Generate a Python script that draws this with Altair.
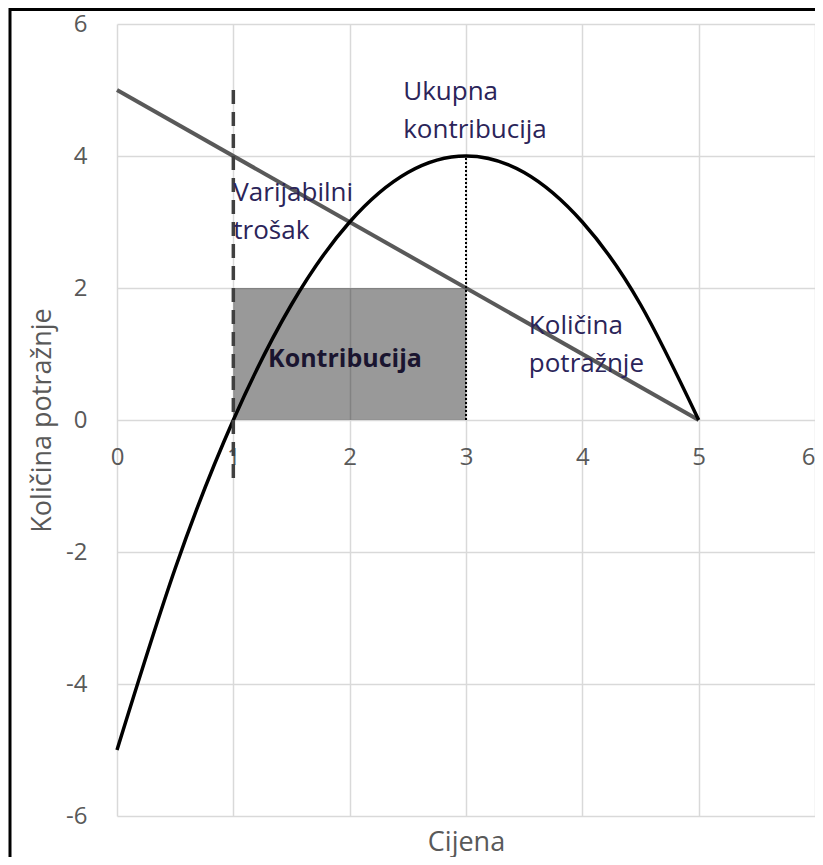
import altair as alt
import pandas as pd

# ---- data ----
curve_x = [0, 0.5, 1, 1.5, 2, 2.5, 3, 3.5, 4, 4.5, 5]
curve_y = [-5, -2.25, 0, 1.75, 3, 3.75, 4, 3.75, 3, 1.75, 0]

demand_x = [0, 5]
demand_y = [5, 0]

var_x = [1]
var_y = [5]
var_y2 = [-1]

peak_x = [3]
peak_y = [0]
peak_y2 = [4]

rect_x = [1]
rect_x2 = [3]
rect_y = [0]
rect_y2 = [2]

x_ticks = [0, 1, 2, 3, 4, 5, 6]
y_ticks = [-6, -4, -2, 0, 2, 4, 6]

note_text = ["Ukupna\nkontribucija", "Varijabilni\ntrošak", "Količina\npotražnje"]
note_x = [2.46, 1.0, 3.54]
note_y = [4.97, 3.44, 1.42]

bold_text = ["Kontribucija"]
bold_x = [1.96]
bold_y = [0.92]

FONT = "Open Sans"
GRAY = "#595959"
GRID = "#d9d9d9"
W, H = 698, 792

xscale = alt.Scale(domain=[0, 6], nice=False, zero=False)
yscale = alt.Scale(domain=[-6, 6], nice=False, zero=False)

xaxis = alt.Axis(values=x_ticks, title=None, grid=True, gridColor=GRID, gridWidth=1.5,
                 orient="bottom",
                 domain=False, ticks=False, tickSize=0, labelPadding=25,
                 labelFont=FONT, labelFontSize=24, labelColor=GRAY,
                 labelFlush=False, labelOverlap=False, labelBound=False,
                 labelAlign={"expr": "datum.value >= 6 ? 'right' : 'center'"},
                 offset=-(H / 2), labelExpr="'' + datum.value")
xaxis_title = alt.Axis(title="Cijena", orient="bottom", grid=False, domain=False,
                       ticks=False, tickSize=0, labels=False, titleFont=FONT,
                       titleFontSize=27, titleColor=GRAY, titleFontWeight="normal",
                       titlePadding=13)
yaxis = alt.Axis(values=y_ticks, title="Količina potražnje", grid=True, gridColor=GRID,
                 gridWidth=1.5, domain=False, ticks=False, tickSize=0, labelPadding=30,
                 labelFont=FONT, labelFontSize=24, labelColor=GRAY,
                 labelFlush=False, labelOverlap=False, labelBound=False,
                 titleFont=FONT, titleFontSize=27, titleColor=GRAY, titleFontWeight="normal",
                 titlePadding=9, labelExpr="'' + datum.value")


def X(f="x", axis=xaxis):
    return alt.X(f"{f}:Q", scale=xscale, axis=axis)


def Y(f="y"):
    return alt.Y(f"{f}:Q", scale=yscale, axis=yaxis)


rect_df = pd.DataFrame({"x": rect_x, "x2": rect_x2, "y": rect_y, "y2": rect_y2})
rect = alt.Chart(rect_df).mark_rect(color="black", opacity=0.4).encode(
    x=X(), x2="x2:Q", y=Y(), y2="y2:Q")

demand_df = pd.DataFrame({"x": demand_x, "y": demand_y})
demand = alt.Chart(demand_df).mark_line(color=GRAY, strokeWidth=4).encode(x=X(), y=Y())

curve_df = pd.DataFrame({"x": curve_x, "y": curve_y})
curve = alt.Chart(curve_df).mark_line(color="black", strokeWidth=3.5,
                                      interpolate="natural").encode(x=X(), y=Y())

var_df = pd.DataFrame({"x": var_x, "y": var_y, "y2": var_y2})
var_line = alt.Chart(var_df).mark_rule(color="#404040", strokeWidth=3.5,
                                       strokeDash=[14, 8]).encode(x=X(), y=Y(), y2="y2:Q")

peak_df = pd.DataFrame({"x": peak_x, "y": peak_y, "y2": peak_y2})
peak_line = alt.Chart(peak_df).mark_rule(color="black", strokeWidth=2,
                                         strokeDash=[2, 2]).encode(x=X(), y=Y(), y2="y2:Q")

notes_df = pd.DataFrame({"x": note_x, "y": note_y, "t": note_text})
notes = alt.Chart(notes_df).mark_text(align="left", baseline="middle", font=FONT,
                                      fontSize=26, color="#2b2459", lineBreak="\n",
                                      lineHeight=38).encode(x=X(), y=Y(), text="t:N")

bold_df = pd.DataFrame({"x": bold_x, "y": bold_y, "t": bold_text})
bold = alt.Chart(bold_df).mark_text(align="center", baseline="middle", font=FONT,
                                    fontSize=25, fontWeight="bold",
                                    color="#1a1530").encode(x=X(), y=Y(), text="t:N")

one = pd.DataFrame({"a": [0]})
frame_top = alt.Chart(one).mark_rule(color="black", strokeWidth=3).encode(
    x=alt.value(-107), x2=alt.value(701), y=alt.value(-14.5))
frame_left = alt.Chart(one).mark_rule(color="black", strokeWidth=3).encode(
    x=alt.value(-107), y=alt.value(-16), y2=alt.value(833))

main = alt.layer(rect, demand, curve, var_line, peak_line, notes, bold,
                 frame_top, frame_left)

ghost = alt.Chart(demand_df).mark_point(opacity=0).encode(x=X(axis=xaxis_title), y=Y())

chart = alt.layer(main, ghost).resolve_axis(x="independent").properties(
    width=W, height=H,
    autosize=alt.AutoSizeParams(type="none"),
    padding={"left": 109, "top": 16, "right": 0, "bottom": 41},
    background="white",
).configure_view(stroke=None)

chart.save("out.html", embed_options={"renderer": "svg", "actions": False})
